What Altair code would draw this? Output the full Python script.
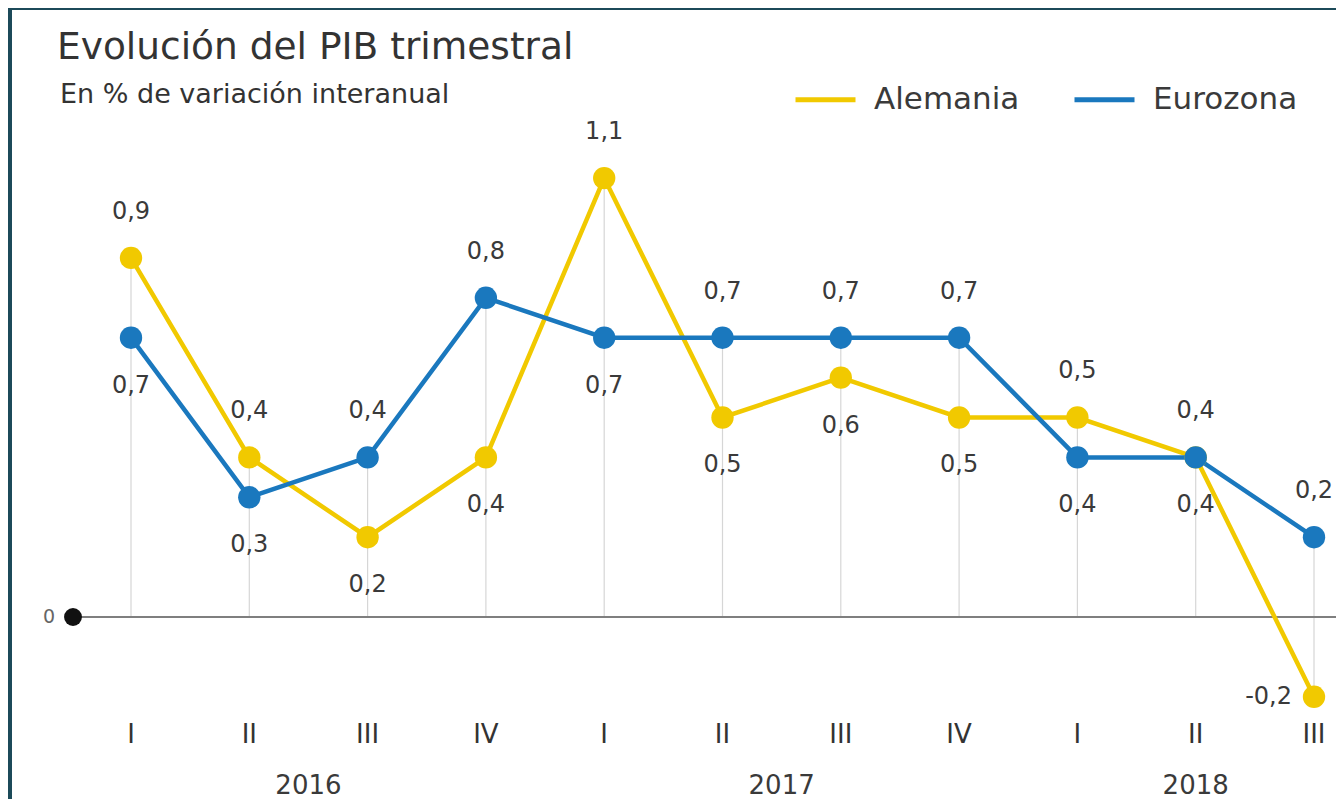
import altair as alt
import pandas as pd

# ---- data ----
quarters = ["I", "II", "III", "IV", "I", "II", "III", "IV", "I", "II", "III"]
years = ["2016", "2016", "2016", "2016", "2017", "2017", "2017", "2017", "2018", "2018", "2018"]
alemania = [0.9, 0.4, 0.2, 0.4, 1.1, 0.5, 0.6, 0.5, 0.5, 0.4, -0.2]
eurozona = [0.7, 0.3, 0.4, 0.8, 0.7, 0.7, 0.7, 0.7, 0.4, 0.4, 0.2]
series = ["Alemania", "Eurozona"]
colors = ["#f1c900", "#1a78be"]
title_text = "Evolución del PIB trimestral"
subtitle_text = "En % de variación interanual"

FONT = "DejaVu Sans"
TXT = "#3a3a3a"

# ---- tables built from the arrays ----
rows = []
for i in range(len(quarters)):
    a, e = alemania[i], eurozona[i]
    for s, v, other in (("Alemania", a, e), ("Eurozona", e, a)):
        if v < 0:
            pos = "left"
        elif s == "Alemania":
            pos = "above" if v >= other else "below"
        else:
            pos = "above" if v > other else "below"
        rows.append({"idx": i, "serie": s, "valor": v,
                     "label": f"{v:.1f}".replace(".", ","), "pos": pos})
df = pd.DataFrame(rows)

rules_df = pd.DataFrame({
    "idx": list(range(len(quarters))),
    "top": [max(a, e, 0) for a, e in zip(alemania, eurozona)],
    "bottom": [min(a, e, 0) for a, e in zip(alemania, eurozona)],
    "quarter": quarters,
    "year": years,
})
years_df = rules_df.groupby("year", as_index=False)["idx"].mean()
zero_df = pd.DataFrame({"zero": [0.0], "lbl": ["0"]})
text_df = pd.DataFrame({"t": [title_text], "s": [subtitle_text]})

W, H = 1324, 789
xs = alt.Scale(domain=[-1.00592, 10.18598], nice=False, zero=False)
ys = alt.Scale(domain=[-0.45614, 1.52130], nice=False, zero=False)
X = alt.X("idx:Q", scale=xs, axis=None)
Y = alt.Y("valor:Q", scale=ys, axis=None)
Z = alt.Y("zero:Q", scale=ys, axis=None)
cscale = alt.Scale(domain=series, range=colors)

base = alt.Chart(df)

vrules = alt.Chart(rules_df).mark_rule(color="#d6d6d6", strokeWidth=1.2).encode(
    x=X, y=alt.Y("top:Q", scale=ys, axis=None), y2="bottom:Q")

zero_line = alt.Chart(zero_df).mark_rule(color="#7f7f7f", strokeWidth=2).encode(
    x=alt.value(61), x2=alt.value(W), y=Z)
zero_dot = alt.Chart(zero_df).mark_point(filled=True, color="#111111", opacity=1, size=320).encode(
    x=alt.value(61), y=Z)
zero_lbl = alt.Chart(zero_df).mark_text(font=FONT, fontSize=19, color="#666666").encode(
    x=alt.value(37), y=Z, text="lbl:N")

lines = base.mark_line(strokeWidth=4.5).encode(
    x=X, y=Y, detail="serie:N",
    color=alt.Color("serie:N", scale=cscale,
                    legend=alt.Legend(orient="none", legendX=781, legendY=57,
                                      direction="horizontal", title=None,
                                      symbolType="stroke", symbolSize=3600,
                                      symbolStrokeWidth=5, labelFontSize=31,
                                      labelFont=FONT, labelColor=TXT,
                                      labelOffset=16, columnPadding=44)))
points = base.mark_point(filled=True, opacity=1, size=500).encode(
    x=X, y=Y, color=alt.Color("serie:N", scale=cscale, legend=None),
    order=alt.Order("serie:N"))

lab_above = base.transform_filter(alt.datum.pos == "above").mark_text(
    font=FONT, fontSize=24, color=TXT, dy=-46, baseline="middle").encode(x=X, y=Y, text="label:N")
lab_below = base.transform_filter(alt.datum.pos == "below").mark_text(
    font=FONT, fontSize=24, color=TXT, dy=48, baseline="middle").encode(x=X, y=Y, text="label:N")
lab_left = base.transform_filter(alt.datum.pos == "left").mark_text(
    font=FONT, fontSize=24, color=TXT, dx=-22, align="right", baseline="middle").encode(x=X, y=Y, text="label:N")

q_labels = alt.Chart(rules_df).mark_text(font=FONT, fontSize=26, color="#333333", baseline="middle").encode(
    x=X, y=alt.value(725), text="quarter:N")
y_labels = alt.Chart(years_df).mark_text(font=FONT, fontSize=26, color=TXT, baseline="middle").encode(
    x=X, y=alt.value(776), text="year:N")

title = alt.Chart(text_df).mark_text(font=FONT, fontSize=37.5, color="#333333", align="left",
                                      baseline="alphabetic").encode(
    x=alt.value(45), y=alt.value(49), text="t:N")
subtitle = alt.Chart(text_df).mark_text(font=FONT, fontSize=27, color="#333333", align="left",
                                         baseline="alphabetic").encode(
    x=alt.value(48), y=alt.value(93), text="s:N")

chart = alt.layer(
    vrules, zero_line, lines, zero_dot, points, zero_lbl,
    lab_above, lab_below, lab_left, q_labels, y_labels, title, subtitle
).properties(
    width=W, height=H,
    autosize=alt.AutoSizeParams(type="none"),
    padding={"left": 4, "top": 2, "right": 0, "bottom": 0},
    background="#1c4a59",
).configure_view(fill="white", stroke=None)

chart.save("out.html", embed_options={"renderer": "svg", "actions": False})
